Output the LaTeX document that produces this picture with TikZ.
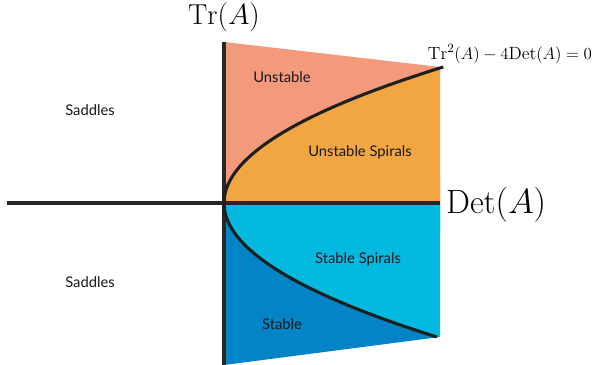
\documentclass[tikz,border=0pt]{standalone}
\usepackage{amsmath,amssymb}
\usepackage{fontspec}
\setsansfont{Lato}
\usepackage{xcolor}
\usetikzlibrary{positioning}
\definecolor{unstablecol}{HTML}{F49A7C}
\definecolor{uspiralcol}{HTML}{F2A641}
\definecolor{sspiralcol}{HTML}{04B9E0}
\definecolor{stablecol}{HTML}{0284C7}
\tikzstyle{region}=[
font=\sffamily\fontsize{10.5}{12}\selectfont,
text=black!90
]
\tikzstyle{axis}=[
line width=2.2pt,
black!85
]
\tikzstyle{curve}=[
line width=2.2pt,
black!88
]

\begin{document}
\begin{tikzpicture}[x=0.025cm,y=-0.025cm]
\useasboundingbox (0,0) rectangle (601,365);

% regions
\fill[unstablecol] (224,42) -- (440,67) -- (440,203) -- (224,203) -- cycle;
\fill[uspiralcol] plot[domain=0:136,samples=60] ({224+216*(\x/136)^2},{203-\x}) -- (440,203) -- cycle;
\fill[stablecol] (224,203) -- (440,203) -- (440,337) -- (224,365) -- cycle;
\fill[sspiralcol] plot[domain=0:134,samples=60] ({224+216*(\x/134)^2},{203+\x}) -- (440,203) -- cycle;

% axes
\coordinate (xleft) at (7,203);
\coordinate (xright) at (440,203);
\coordinate (ytop) at (224,42);
\coordinate (ybot) at (224,365);
\draw[axis] (xleft) -- (xright);
\draw[axis] (ytop) -- (ybot);

% discriminant curve
\draw[curve] plot[domain=-134:136,samples=120] ({224+216*(\x/135)^2},{203-\x});

\node (tr) at (224,17) {\fontsize{20.5}{24}\selectfont $\mathrm{Tr}(A)$};
\node (det) [right=0.03cm of xright, yshift=-0.05cm] {\fontsize{24}{28}\selectfont $\mathrm{Det}(A)$};
\node (disc) at (510,54) {\fontsize{12.6}{15}\selectfont $\mathrm{Tr}^2(A)-4\mathrm{Det}(A)=0$};

\node (unstable) [region] at (282,77) {Unstable};
\node (uspirals) [region] at (360,152) {Unstable Spirals};
\node (sspirals) [region] at (358,259) {Stable Spirals};
\node (stable) [region] at (282,324) {Stable};
\node (saddleup) [region] at (90,110) {Saddles};
\node (saddledown) [region] at (90,282) {Saddles};

\end{tikzpicture}
\end{document}
